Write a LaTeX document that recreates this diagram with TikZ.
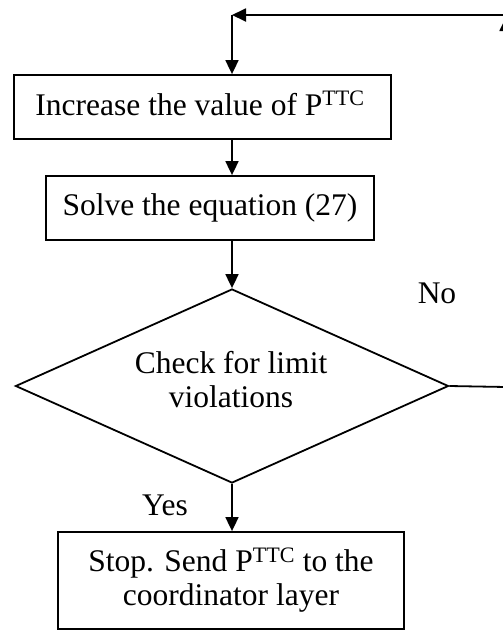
\documentclass[tikz,border=0pt]{standalone}
\usepackage{fontspec}
\setmainfont{Liberation Serif}
\usetikzlibrary{arrows.meta,shapes.geometric}
\tikzset{
  flowline/.style={line width=1.8pt, line join=miter},
  flowarrow/.style={flowline, -{Triangle[length=14pt,width=13pt]}},
  labeltext/.style={inner sep=0pt, align=center, font=\fontsize{31.5}{34}\selectfont},
  procbox/.style={draw, line width=1.8pt, inner sep=0pt, align=center,
    font=\fontsize{31.5}{34}\selectfont},
  decision/.style={draw, line width=1.8pt, shape=diamond, inner sep=0pt, aspect=2.23},
  branchlabel/.style={inner sep=0pt, anchor=base, font=\fontsize{31.5}{34}\selectfont}
}
\begin{document}
\begin{tikzpicture}[x=1pt,y=-1pt]
  \useasboundingbox (0,0) rectangle (503,630);
  \clip (0,0) rectangle (503,630);

  % process steps
  \node[procbox, minimum width=377pt, minimum height=64pt] (inc) at (202.5,107) {};
  \node[labeltext, anchor=base] (inctext) at (200,115)
    {Increase the value of P\textsuperscript{TTC}};
  \node[procbox, minimum width=328pt, minimum height=64pt] (solve) at (210,208)
    {Solve the equation (27)};
  \node[decision, minimum width=433pt, minimum height=194pt] (check) at (232,386) {};
  \node[labeltext] (checktext) at (231,380) {Check for limit\\violations};
  \node[procbox, minimum width=346pt, minimum height=97pt] (stop) at (231,580.5)
    {Stop. Send P\textsuperscript{TTC} to the\\coordinator layer};

  % branch labels
  \node[branchlabel] (no) at (437,303) {No};
  \node[branchlabel] (yes) at (165,515) {Yes};

  % loop-back route
  \coordinate (topright) at (503,15);
  \coordinate (corner) at (232,15);
  \coordinate (noturn) at (506,387);
  \coordinate (noup) at (506,17);

  \draw[flowarrow] (topright) -- (corner);
  \draw[flowarrow] (corner) -- (corner |- inc.north);
  \draw[flowarrow] (corner |- inc.south) -- (corner |- solve.north);
  \draw[flowarrow] (corner |- solve.south) -- (check.north);
  \draw[flowarrow] (check.south) -- (check.south |- stop.north);
  \draw[flowarrow] (check.east) -- (noturn) -- (noup);
\end{tikzpicture}
\end{document}
